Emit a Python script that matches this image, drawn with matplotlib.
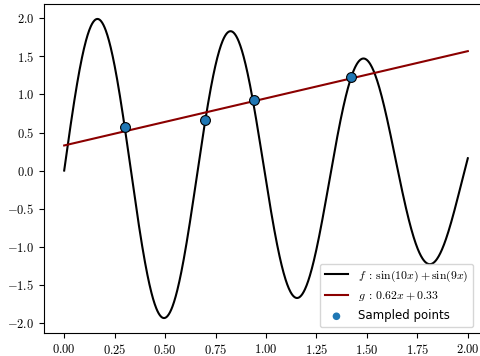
import numpy as np
import matplotlib
matplotlib.use("Agg")
import matplotlib.pyplot as plt
from matplotlib.ticker import FuncFormatter

plt.rcParams['mathtext.fontset'] = 'cm'

# function coefficients (from the legend)
f_freqs = [10, 9]
g_slope = 0.62
g_intercept = 0.33
x_range = [0.0, 2.0]

# sampled points (intersections)
pts_x = [0.30, 0.70, 0.94, 1.42]
pts_y = [0.57, 0.67, 0.93, 1.23]

xticks = [0.00, 0.25, 0.50, 0.75, 1.00, 1.25, 1.50, 1.75, 2.00]
yticks = [-2.0, -1.5, -1.0, -0.5, 0.0, 0.5, 1.0, 1.5, 2.0]

x = np.linspace(x_range[0], x_range[1], 1000)
f = np.sin(f_freqs[0] * x) + np.sin(f_freqs[1] * x)
g = g_slope * x + g_intercept

fig = plt.figure(figsize=(4.81, 3.56), dpi=100)
ax = fig.add_axes([44/481, 23/356, 444/481, 329/356])
ax.plot(x, f, color='black', lw=1.5, label=r'$f\;:\,\sin(10x) + \sin(9x)$')
ax.plot(x, g, color='#8b0000', lw=1.5, label=r'$g\;:\,0.62x + 0.33$')
ax.scatter(pts_x, pts_y, s=50, color='#1f77b4', edgecolor='black', linewidth=0.8, zorder=3, label='Sampled points')

ax.set_xticks(xticks)
ax.set_yticks(yticks)
ax.xaxis.set_major_formatter(FuncFormatter(lambda v, p: r'$%.2f$' % v))
ax.yaxis.set_major_formatter(FuncFormatter(lambda v, p: r'$%.1f$' % v))
ax.tick_params(labelsize=9)
leg = ax.legend(loc='lower right', fontsize=8.5, bbox_to_anchor=(0.995 * 437/444, 0.0))
sh = leg.legend_handles[2]
sh.set_edgecolor('none')
sh.set_sizes([30])
fig.savefig('out.png', dpi=100)
